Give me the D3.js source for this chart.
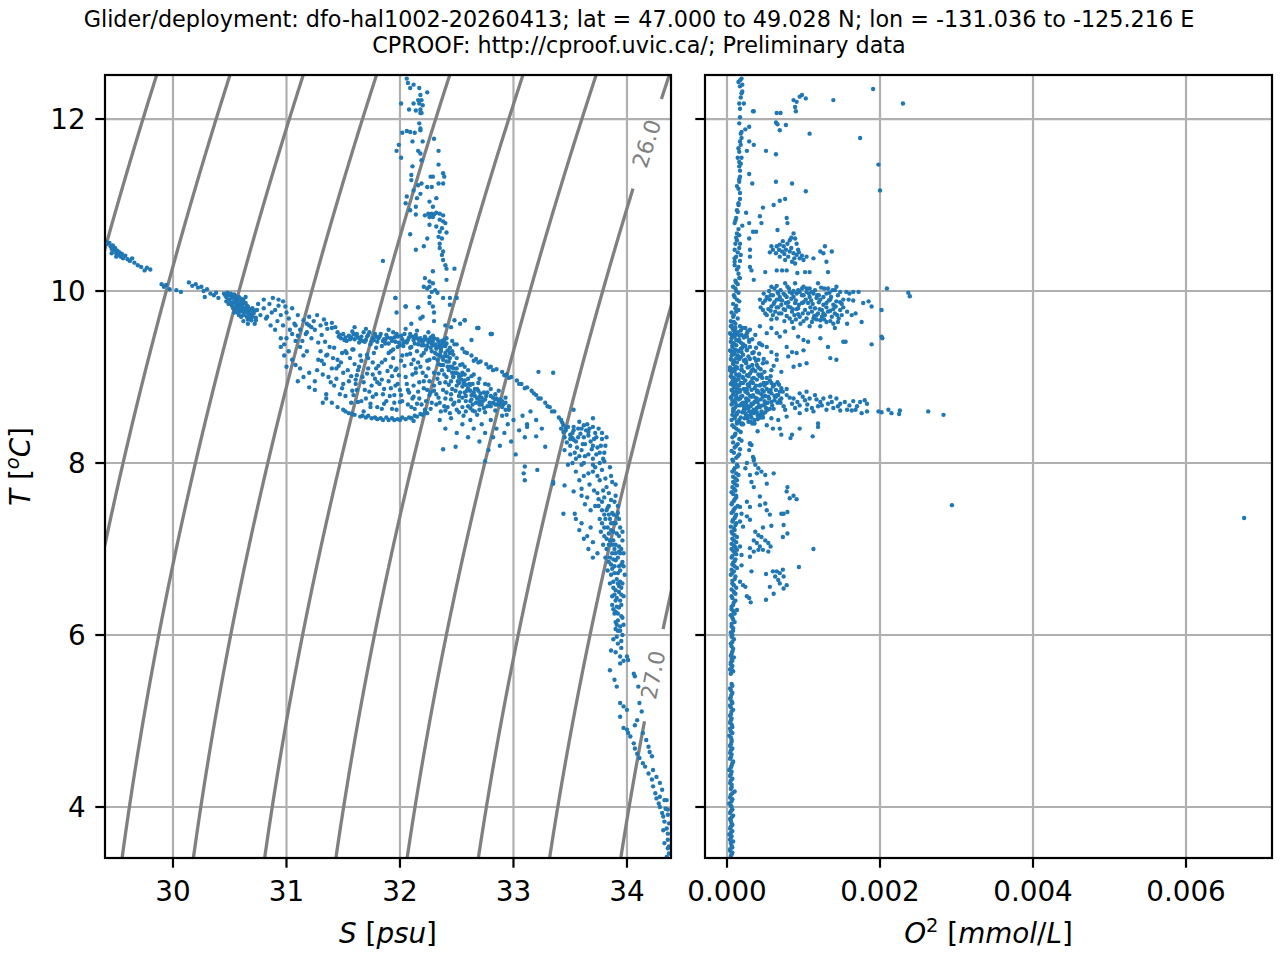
<!DOCTYPE html>
<html><head><meta charset="utf-8">
<script src="https://cdn.jsdelivr.net/npm/d3@7"></script>
<style>
body{margin:0;background:#fff}
svg{display:block}
text{font-family:"DejaVu Sans",sans-serif}
</style>
</head><body>
<svg id="chart" width="1280" height="960"></svg>
<script>
// ---------------- DATA ----------------
const titleLines = [
  "Glider/deployment: dfo-hal1002-20260413; lat = 47.000 to 49.028 N; lon = -131.036 to -125.216 E",
  "CPROOF: http://cproof.uvic.ca/; Preliminary data"
];
const salinityTicks = [30, 31, 32, 33, 34];
const temperatureTicks = [4, 6, 8, 10, 12];
const oxygenTicks = [0, 0.002, 0.004, 0.006];
const oxygenTickLabels = ["0.000", "0.002", "0.004", "0.006"];
const sigmaLevels = [22.5, 23.0, 23.5, 24.0, 24.5, 25.0, 25.5, 26.0, 26.5, 27.0, 27.5];
const sigmaLabels = [26.0, 27.0];
const sigmaLabelTemps = [11.715, 5.535];

// salinity / temperature samples [S, T]
const tsPoints = [
 [29.41,10.57],[29.42,10.55],[29.44,10.56],[29.45,10.52],[29.46,10.49],[29.47,10.53],[29.48,10.47],[29.49,10.50],[29.50,10.44],[29.51,10.47],[29.52,10.42],[29.53,10.45],[29.54,10.40],[29.55,10.43],[29.56,10.38],[29.58,10.41],[29.60,10.37],[29.62,10.35],[29.64,10.38],[29.66,10.33],[29.69,10.30],[29.72,10.28],[29.75,10.24],[29.77,10.27],[29.80,10.25],[29.46,10.44],[29.50,10.40],
 [29.90,10.08],[29.92,10.05],[29.94,10.07],[29.97,10.02],[30.03,10.01],[30.07,9.99],[30.14,10.10],[30.17,10.06],[30.20,10.08],[30.22,10.04],[30.25,10.05],[30.27,10.00],[30.30,10.02],[30.33,9.97],[30.36,9.95],[30.38,9.98],[30.28,9.93],[30.40,9.92],
 [30.45,9.97],[30.47,9.93],[30.48,9.98],[30.50,9.95],[30.50,9.90],[30.52,9.93],[30.53,9.87],[30.54,9.96],[30.55,9.91],[30.56,9.85],[30.57,9.89],[30.58,9.93],[30.58,9.82],[30.60,9.87],[30.60,9.78],[30.61,9.84],[30.62,9.90],[30.63,9.80],[30.64,9.75],[30.64,9.86],[30.65,9.70],[30.66,9.82],[30.67,9.77],[30.68,9.72],[30.69,9.66],[30.70,9.80],[30.71,9.74],[30.72,9.62],[30.73,9.69],[30.74,9.78],[30.52,9.83],[30.55,9.78],[30.57,9.75],[30.60,9.70],[30.62,9.65],[30.66,9.62],[30.75,9.85],[30.77,9.72],[30.80,9.80],[30.82,9.68],
 [30.80,9.90],[30.85,9.85],[30.88,9.92],[30.90,9.78],[30.93,9.83],[30.95,9.72],[30.97,9.88],[31.00,9.75],[31.02,9.68],[31.05,9.80],[31.07,9.62],[31.10,9.72],[31.12,9.55],[31.15,9.66],[31.17,9.50],[31.20,9.60],[31.22,9.45],[31.25,9.55],[31.28,9.40],[30.86,9.60],[30.90,9.55],[30.95,9.45],[30.98,9.38],[31.02,9.30],[31.05,9.20],[31.08,9.14],[31.00,9.12],[31.12,9.35],[31.15,9.25],[30.83,9.70],
 [30.95,9.35],[31.00,9.45],[31.05,9.50],[30.98,9.25],[31.08,9.42],[31.12,9.10],[31.15,9.00],[31.18,9.30],[31.10,8.95],[31.20,8.88],[31.35,8.75],[31.40,8.70],[31.45,8.65],
 [31.20,9.70],[31.24,9.65],[31.27,9.72],[31.30,9.60],[31.33,9.67],[31.36,9.56],[31.40,9.63],[31.43,9.58],[31.22,9.58],[31.18,9.62],
 [31.45,9.52],[31.48,9.45],[31.50,9.50],[31.53,9.42],[31.55,9.48],[31.58,9.53],[31.60,9.44],[31.62,9.50],[31.64,9.40],[31.66,9.47],[31.68,9.52],[31.70,9.43],[31.72,9.49],[31.74,9.38],[31.76,9.45],[31.78,9.50],[31.80,9.41],[31.82,9.47],[31.84,9.36],[31.86,9.44],[31.88,9.49],[31.90,9.39],[31.92,9.45],[31.94,9.52],[31.96,9.41],[31.98,9.47],[32.00,9.37],[32.02,9.44],[32.04,9.50],[32.06,9.40],[32.08,9.46],[32.10,9.35],[32.12,9.43],[32.14,9.49],[32.16,9.38],[32.18,9.45],[32.20,9.41],[32.22,9.47],[32.24,9.36],[32.26,9.43],[32.28,9.39],[32.30,9.45],[32.32,9.35],[32.34,9.41],[32.36,9.33],[32.38,9.40],[32.40,9.36],[32.42,9.31],[31.90,9.55],[32.05,9.56],[32.15,9.54],[32.25,9.52],[31.70,9.56],[31.60,9.58],[31.40,9.57],[31.35,9.62],
 [31.85,9.42],[31.95,9.46],[32.03,9.40],[32.11,9.47],[32.19,9.37],[32.27,9.46],[32.35,9.38],[31.75,9.41],[31.65,9.44],[31.57,9.46],
 [31.30,9.30],[31.33,9.15],[31.35,9.25],[31.37,9.00],[31.40,9.10],[31.42,8.90],[31.45,9.20],[31.47,8.80],[31.50,9.05],[31.52,9.30],[31.55,8.95],[31.57,8.70],[31.60,9.15],[31.62,8.85],[31.65,9.25],[31.67,9.00],[31.70,8.75],[31.72,9.10],[31.75,8.90],[31.77,9.28],[31.80,8.65],[31.82,9.05],[31.85,8.80],[31.87,9.20],[31.90,8.95],[31.92,9.30],[31.95,8.70],[31.97,9.10],[32.00,8.85],[32.02,9.25],[32.05,9.00],[32.07,8.68],[32.10,9.15],[32.12,8.90],[32.15,9.30],[32.17,8.75],[32.20,9.05],[32.22,8.62],[32.24,8.85],[32.26,9.20],[31.38,9.35],[31.44,8.98],[31.58,9.32],[31.68,8.60],[31.78,8.98],[31.88,8.72],[31.98,9.35],[32.08,8.82],[32.18,9.12],[31.52,8.78],[31.62,9.02],[31.72,9.22],[31.82,8.92],[31.92,9.12],[32.02,8.72],[32.12,9.20],[31.35,8.80],[31.25,8.95],[31.28,9.20],[31.20,9.05],[31.25,8.85],[31.32,8.70],
 [31.50,8.62],[31.55,8.58],[31.60,8.56],[31.65,8.54],[31.70,8.53],[31.75,8.52],[31.80,8.51],[31.85,8.50],[31.90,8.50],[31.95,8.50],[32.00,8.50],[32.05,8.51],[32.10,8.52],[32.15,8.54],[32.20,8.56],[32.24,8.58],[31.72,8.55],[31.88,8.53],[32.02,8.53],[32.12,8.49],
 [32.28,9.30],[32.30,9.22],[32.32,9.33],[32.34,9.15],[32.35,9.26],[32.37,9.08],[32.38,9.20],[32.40,9.28],[32.41,9.00],[32.42,9.12],[32.44,9.22],[32.45,8.95],[32.46,9.05],[32.48,9.16],[32.50,8.90],[32.50,9.10],[32.52,9.00],[32.53,8.82],[32.55,9.05],[32.56,8.93],[32.58,8.78],[32.60,8.98],[32.60,8.87],[32.62,8.72],[32.64,8.92],[32.65,8.82],[32.67,8.70],[32.68,8.86],[32.70,8.77],[32.72,8.68],[32.74,8.82],[32.75,8.74],[32.77,8.66],[32.80,8.78],[32.82,8.70],[32.85,8.75],[32.88,8.68],[32.90,8.72],[32.30,8.90],[32.32,8.80],[32.35,8.70],[32.38,8.85],[32.40,8.75],[32.42,8.65],[32.45,8.80],[32.48,8.70],[32.50,8.62],[32.52,8.72],[32.55,8.65],[32.28,8.70],[32.26,8.95],[32.30,9.05],[32.33,8.98],[32.36,8.60],[32.44,8.58],[32.58,8.60],[32.62,8.64],[32.66,8.60],[32.70,8.62],
 [32.36,9.30],[32.39,9.24],[32.43,9.18],[32.47,9.10],[32.51,9.04],[32.54,8.97],[32.58,8.91],[32.62,8.84],[32.66,8.78],[32.70,8.72],
 [32.41,9.45],[32.46,9.42],[32.50,9.38],[32.55,9.33],[32.59,9.28],[32.63,9.25],[32.67,9.21],[32.71,9.18],[32.76,9.15],[32.80,9.12],[32.85,9.09],[32.90,9.06],[32.94,9.03],[32.98,9.00],[33.03,8.96],[33.07,8.92],[33.12,8.88],[33.16,8.84],[33.20,8.79],[33.24,8.75],[33.28,8.70],[33.32,8.65],[33.36,8.60],[33.40,8.53],[33.43,8.47],[33.46,8.40],[33.50,8.33],[33.53,8.27],
 [32.65,9.19],[32.78,9.11],[32.92,9.02],[33.05,8.92],[33.18,8.81],[33.30,8.66],[33.42,8.50],
 [32.44,9.28],[32.50,9.22],[32.55,9.15],[32.60,9.08],[32.65,9.03],[32.70,8.98],[32.75,8.92],[32.80,8.86],[32.84,8.80],[32.88,8.74],[32.91,8.68],[32.93,8.62],[32.94,8.56],
 [32.35,8.50],[32.40,8.40],[32.45,8.52],[32.50,8.35],[32.55,8.45],[32.60,8.30],[32.62,8.50],[32.65,8.40],[32.70,8.25],[32.72,8.45],[32.75,8.35],[32.78,8.15],[32.80,8.50],[32.82,8.30],[32.85,8.40],[32.88,8.20],[32.90,8.55],[32.92,8.35],[32.95,8.45],[32.98,8.25],[33.00,8.50],[33.02,8.10],[33.05,8.38],[33.08,8.55],[33.10,8.30],[33.12,8.45],[32.38,8.16],[32.49,8.19],[32.75,8.02],[33.09,7.88],[33.10,7.80],[33.21,7.92],[33.35,7.78],[33.45,7.74],[33.53,7.67],[32.56,8.55],[32.68,8.56],[33.15,8.60],[33.20,8.50],[33.25,8.40],
 [32.68,9.57],[32.81,9.50],[32.63,9.43],[32.53,9.62],[33.22,9.06],[33.35,9.05],[33.53,8.62],[33.70,8.52],[32.57,9.66],[32.69,9.57],[32.80,9.50],
 [31.96,9.92],[32.05,9.82],[32.16,9.81],[32.20,9.70],[32.30,9.65],[32.40,9.60],[32.45,9.58],[31.97,9.75],[32.10,9.62],
 [33.12,8.42],[33.20,8.31],[33.28,8.19],[33.10,7.96],[33.35,7.76],[33.44,7.41],[33.54,7.41],
 [33.42,8.40],[33.45,8.30],[33.48,8.42],[33.50,8.20],[33.52,8.35],[33.55,8.25],[33.57,8.40],[33.60,8.15],[33.62,8.30],[33.64,8.38],[33.66,8.10],[33.68,8.25],[33.70,8.05],[33.72,8.35],[33.74,8.18],[33.76,8.00],[33.78,8.28],[33.55,8.05],[33.60,7.98],[33.50,8.10],[33.45,8.15],[33.65,8.45],[33.58,8.48],[33.70,8.42],[33.80,8.12],[33.82,8.30],[33.48,7.98],[33.52,8.00],
 [33.55,7.90],[33.58,7.80],[33.60,7.70],[33.62,7.85],[33.65,7.60],[33.67,7.75],[33.70,7.90],[33.72,7.50],[33.74,7.65],[33.76,7.80],[33.78,7.45],[33.80,7.60],[33.82,7.72],[33.84,7.50],[33.86,7.85],[33.88,7.40],[33.90,7.62],[33.63,7.52],[33.68,7.45],[33.72,7.95],[33.85,7.95],[33.90,7.75],[33.60,7.62],[33.92,7.50],
 [33.55,7.35],[33.58,7.22],[33.62,7.12],[33.66,7.00],[33.70,6.90],[33.60,7.30],[33.65,7.15],[33.70,7.08],[33.74,6.95],[33.68,7.25],
 [33.75,7.50],[33.80,7.40],[33.85,7.35],[33.90,7.30],[33.78,7.30],[33.83,7.25],[33.88,7.20],[33.93,7.15],[33.80,7.15],[33.85,7.10],[33.90,7.05],[33.95,7.00],[33.82,7.00],[33.87,6.95],[33.92,6.90],[33.96,6.85],[33.84,6.85],[33.89,6.80],[33.94,6.75],[33.86,6.70],[33.91,6.65],[33.96,6.60],[33.88,6.55],[33.93,6.50],[33.97,6.45],[33.90,6.40],[33.95,6.35],[33.88,6.30],[33.92,6.25],[33.96,6.20],[33.90,6.15],[33.94,6.10],[33.92,6.05],[33.96,6.00],[33.77,7.20],[33.79,7.05],[33.81,6.90],[33.83,6.75],[33.85,6.60],[33.87,6.45],[33.89,6.25],[33.91,6.12],[33.93,7.35],[33.96,7.20],[33.97,6.95],[33.98,6.70],[33.94,6.95],[33.92,6.60],[33.86,7.30],[33.88,7.10],[33.82,7.45],[33.76,7.35],[33.90,6.95],[33.93,6.80],[33.87,6.35],[33.95,6.55],
 [33.88,5.95],[33.92,5.90],[33.95,5.85],[33.90,5.80],[33.94,5.75],[33.97,5.70],[33.86,5.82],
 [33.85,5.59],[33.89,5.48],[33.94,5.67],[34.00,5.75],[34.01,5.71],[34.06,5.55],[34.07,5.52],[33.91,5.40],[33.94,5.21],[33.97,5.17],[34.00,5.13],[33.94,5.05],[34.10,5.40],[34.11,5.21],[34.13,5.11],[34.09,5.01],[34.07,4.95],
 [33.97,4.92],[34.00,4.90],[34.01,4.86],[34.03,4.82],[34.06,4.74],[34.07,4.68],[34.09,4.62],[34.14,4.86],[34.17,4.78],[34.19,4.70],[34.20,4.64],[34.22,4.59],[34.11,4.57],[34.14,4.51],
 [34.16,4.47],[34.19,4.39],[34.22,4.32],[34.23,4.24],[34.25,4.16],[34.26,4.10],[34.28,4.04],[34.29,4.00],[34.31,3.93],[34.32,3.89],[34.33,3.83],[34.35,3.75],[34.36,3.69],[34.36,3.62],[34.37,3.54],[34.37,3.46],[34.35,3.42],[34.23,4.43],[34.26,4.35],[34.29,4.28],[34.31,4.20],[34.33,4.08],[34.34,3.98],[34.36,3.91],[34.37,3.81],[34.32,3.73],[34.36,3.97],[34.29,4.12],[34.35,4.08],[34.36,3.52],[34.33,3.58],
 [32.06,12.47],[32.07,12.42],[32.09,12.36],[32.12,12.40],[32.17,12.36],[32.24,12.31],[32.18,12.28],[32.16,12.22],[32.19,12.22],[32.17,12.18],[32.20,12.16],[32.01,12.18],[32.12,12.18],[32.08,12.11],[32.18,12.11],[32.14,12.10],[32.18,12.07],[32.19,12.07],
 [32.17,11.95],[32.18,11.89],[32.18,11.87],[32.02,11.84],[32.06,11.86],[32.09,11.85],[32.13,11.84],[32.11,11.74],[32.20,11.74],[32.30,11.77],[31.99,11.70],[31.97,11.63],[32.01,11.55],[32.16,11.63],[32.18,11.60],[32.34,11.63],[32.19,11.52],[32.11,11.45],[32.34,11.47],[32.10,11.35],[32.27,11.33],[32.29,11.33],[32.38,11.37],[32.39,11.33],[32.10,11.29],[32.16,11.23],[32.19,11.25],[32.24,11.21],[32.28,11.21],[32.34,11.25],[32.38,11.25],[32.12,11.17],[32.18,11.13],[32.06,11.10],[32.32,11.08],[32.05,11.02],[32.15,11.08],[32.14,10.98],[32.09,10.94],[32.26,11.04],[32.29,10.98],
 [32.22,10.88],[32.25,10.90],[32.28,10.90],[32.30,10.89],[32.32,10.91],[32.35,10.90],[32.38,10.88],[32.26,10.86],[32.29,10.86],[32.14,10.89],[32.26,10.77],[32.35,10.83],[32.38,10.81],[32.40,10.79],[32.37,10.73],[32.32,10.75],[32.41,10.68],[32.35,10.69],[32.34,10.63],[32.37,10.61],[32.35,10.55],[32.09,10.66],[32.14,10.48],[32.21,10.52],[32.24,10.61],[32.35,10.50],[32.38,10.46],[32.37,10.42],[32.38,10.36],[32.40,10.30],[32.41,10.26],[32.48,10.26],[32.29,10.23],
 [32.22,10.15],[32.26,10.11],[32.29,10.09],[32.21,10.05],[32.24,10.03],[32.26,10.05],[32.28,9.99],[32.31,10.01],[32.33,9.98],[32.41,10.13],[32.38,9.92],[32.44,9.92],[32.50,9.92],[32.26,9.93],[32.26,9.86],[32.29,9.82],[31.85,10.35],[31.96,9.92],[32.05,9.82],[32.16,9.81],[32.44,9.84],
 [32.18,9.68],[32.30,9.75],[32.48,9.66],[32.57,9.66],[32.69,9.57],[32.80,9.50]
];

// additional samples filling the dense parts of the T-S cloud [S, T]
const tsPointsDense = [
 [30.46,9.95],[30.49,9.90],[30.51,9.86],[30.53,9.92],[30.56,9.88],[30.59,9.85],[30.61,9.80],[30.63,9.86],[30.65,9.78],[30.67,9.73],[30.70,9.70],[30.56,9.82],[30.59,9.76],[30.62,9.72],[30.66,9.67],[30.68,9.79],[30.72,9.77],[30.54,9.75],[30.49,9.85],[30.64,9.93],
 [30.87,9.75],[30.92,9.65],[30.97,9.60],[31.03,9.55],[31.08,9.60],[31.10,9.48],[31.14,9.42],[31.18,9.52],[30.93,9.90],[30.99,9.82],
 [31.31,9.49],[31.46,9.47],[31.61,9.49],[31.79,9.47],[31.97,9.49],[32.13,9.47],[32.29,9.48],
 [31.34,9.41],[31.51,9.43],[31.69,9.41],[31.87,9.43],[32.05,9.41],[32.21,9.43],[32.37,9.42],
 [31.42,9.34],[31.59,9.32],[31.79,9.34],[31.94,9.32],[32.09,9.34],[32.23,9.32],
 [31.36,9.26],[31.53,9.28],[31.71,9.26],[31.90,9.28],[32.06,9.26],[32.21,9.28],
 [31.31,9.19],[31.48,9.17],[31.66,9.19],[31.84,9.17],[32.01,9.19],[32.16,9.17],[32.24,9.19],
 [31.27,9.08],[31.44,9.10],[31.63,9.08],[31.79,9.10],[31.96,9.08],[32.14,9.10],
 [31.32,9.03],[31.57,9.01],[31.76,9.03],[31.93,9.01],[32.11,9.03],[32.23,9.01],
 [31.39,8.94],[31.61,8.92],[31.80,8.94],[31.98,8.92],[32.17,8.94],
 [31.49,8.87],[31.69,8.85],[31.92,8.87],[32.07,8.85],[32.21,8.87],
 [31.59,8.79],[31.76,8.77],[31.95,8.79],[32.12,8.77],[32.26,8.79],
 [31.63,8.71],[31.86,8.69],[32.00,8.71],[32.15,8.69],
 [31.74,8.65],[31.93,8.63],[32.10,8.65],[32.27,8.63],
 [31.52,8.60],[31.58,8.57],[31.67,8.55],[31.78,8.53],[31.83,8.52],[31.93,8.52],[31.98,8.51],[32.08,8.53],[32.13,8.55],[32.18,8.57],[32.22,8.59],
 [32.29,9.37],[32.34,9.35],[32.39,9.37],[32.33,9.26],[32.42,9.24],[32.47,9.26],
 [32.36,9.14],[32.44,9.12],[32.53,9.14],[32.57,9.12],[32.39,9.03],[32.47,9.01],[32.57,9.03],[32.63,9.01],
 [32.35,8.93],[32.43,8.91],[32.52,8.93],[32.62,8.91],[32.69,8.93],[32.78,8.91],
 [32.30,8.84],[32.41,8.82],[32.49,8.84],[32.57,8.82],[32.69,8.84],[32.77,8.82],[32.87,8.84],
 [32.34,8.76],[32.45,8.74],[32.55,8.76],[32.63,8.74],[32.72,8.76],[32.84,8.74],[32.93,8.76],
 [32.32,8.68],[32.39,8.66],[32.47,8.68],[32.60,8.66],[32.70,8.68],[32.80,8.66],[32.86,8.68],[32.96,8.66],
 [32.40,8.61],[32.52,8.59],[32.64,8.61],[32.75,8.59],[32.84,8.61],
 [32.48,9.38],[32.57,9.29],[32.69,9.17],[32.82,9.08],[32.96,8.99],[33.10,8.87],[33.22,8.75],[33.34,8.60],[33.44,8.44],[33.52,8.29],
 [33.44,8.36],[33.47,8.24],[33.51,8.30],[33.53,8.42],[33.56,8.18],[33.59,8.34],[33.61,8.22],[33.63,8.08],[33.66,8.32],[33.69,8.16],[33.71,8.28],[33.73,8.10],[33.75,8.40],[33.77,8.20],[33.79,8.05],[33.54,8.12],[33.67,8.40],[33.62,8.44],[33.81,8.20],[33.58,8.08],
 [33.78,7.55],[33.83,7.48],[33.87,7.42],[33.91,7.38],[33.81,7.35],[33.86,7.22],[33.91,7.18],[33.84,7.05],[33.89,7.00],[33.93,7.03],[33.85,6.90],[33.90,6.87],[33.95,6.82],[33.87,6.77],[33.92,6.72],[33.88,6.62],[33.94,6.62],[33.90,6.52],[33.95,6.47],[33.91,6.43],[33.93,6.32],[33.90,6.27],[33.95,6.22],[33.92,6.17],[33.94,6.05],[33.97,6.12],[33.91,5.98],[33.80,7.25],[33.82,7.12],[33.96,7.10],[33.97,6.80],[33.88,6.88]
];

// further samples from the densest T-S patches [S, T]
const tsPointsCore = [
 [31.47,9.49],[31.52,9.46],[31.56,9.44],[31.59,9.50],[31.63,9.46],[31.67,9.42],[31.71,9.47],[31.73,9.52],[31.77,9.43],[31.81,9.45],[31.83,9.50],[31.87,9.39],[31.89,9.46],[31.93,9.42],[31.97,9.50],[31.99,9.40],[32.01,9.48],[32.03,9.36],[32.07,9.43],[32.09,9.50],[32.13,9.39],[32.15,9.45],[32.17,9.42],[32.21,9.37],[32.23,9.44],[32.25,9.40],[32.29,9.42],[32.31,9.38],[32.33,9.44],[32.37,9.36],[32.39,9.43],[32.41,9.39],[32.44,9.34],[32.46,9.30],
 [32.27,9.34],[32.31,9.28],[32.33,9.20],[32.36,9.24],[32.38,9.14],[32.41,9.18],[32.43,9.08],[32.46,9.12],[32.47,9.00],[32.49,9.05],[32.51,8.95],[32.54,9.02],[32.55,8.89],[32.57,8.96],[32.59,8.84],[32.61,8.92],[32.63,8.79],[32.66,8.86],[32.68,8.75],[32.71,8.81],[32.73,8.72],[32.76,8.78],[32.79,8.70],[32.82,8.76],[32.84,8.68],[32.87,8.72],[32.90,8.65],[32.93,8.70],[32.96,8.62],[32.34,9.04],[32.40,8.94],[32.46,8.86],[32.52,8.78],[32.58,8.72],[32.64,8.68],[32.74,8.64],
 [31.41,9.22],[31.46,9.13],[31.49,9.28],[31.54,9.08],[31.56,9.22],[31.61,8.97],[31.64,9.12],[31.68,8.94],[31.71,9.04],[31.73,8.83],[31.76,9.17],[31.79,8.80],[31.81,9.13],[31.84,8.97],[31.86,8.86],[31.89,9.07],[31.91,8.78],[31.94,9.22],[31.96,8.90],[31.99,9.02],[32.01,8.79],[32.04,9.13],[32.06,8.92],[32.09,9.27],[32.11,8.75],[32.14,9.05],[32.16,8.83],[32.19,9.25],[32.21,8.95],[32.23,8.72],[32.25,9.10],[32.27,8.82],[31.50,8.92],[31.58,8.84],[31.66,8.72],[31.74,8.69],[31.84,8.63],[31.97,8.62],[32.13,8.63],[32.19,8.68],
 [33.46,8.38],[33.50,8.28],[33.53,8.38],[33.57,8.30],[33.60,8.40],[33.63,8.22],[33.66,8.36],[33.70,8.20],[33.73,8.30],[33.76,8.12],[33.78,8.35],[33.80,8.02],[33.62,8.00],[33.66,7.88],[33.70,7.98],[33.74,7.85],[33.78,7.92],[33.81,7.82],[33.84,7.65],[33.87,7.78],[33.89,7.55],[33.79,7.68],[33.75,7.58],[33.71,7.68],[33.86,7.57],[33.92,7.42],[33.84,7.40],[33.88,7.30],[33.94,7.25],[33.84,7.18],[33.87,7.05],[33.93,6.97],[33.86,6.82],[33.89,6.72],[33.93,6.57],[33.89,6.47],[33.94,6.40],[33.91,6.33],[33.90,6.07],[33.95,5.93],
 [30.47,9.88],[30.51,9.97],[30.55,9.94],[30.57,9.80],[30.60,9.91],[30.62,9.76],[30.65,9.83],[30.68,9.68],[30.70,9.76],[30.58,9.72],[30.53,9.80],[30.73,9.66]
];

// oxygen / temperature samples [O2 (mmol/L), T]
const o2Points = [
 [0.00005,3.43],[0.00007,3.47],[0.00004,3.51],[0.00006,3.55],[0.00008,3.60],[0.00005,3.64],[0.00003,3.68],[0.00007,3.72],[0.00005,3.77],[0.00006,3.81],[0.00004,3.86],[0.00008,3.90],[0.00005,3.95],[0.00006,4.00],[0.00003,4.04],[0.00007,4.09],[0.00005,4.14],[0.00010,4.18],[0.00006,4.23],[0.00004,4.28],[0.00007,4.33],[0.00005,4.38],[0.00003,4.43],[0.00006,4.48],[0.00008,4.53],[0.00005,4.58],[0.00004,4.63],[0.00007,4.68],[0.00005,4.73],[0.00006,4.78],[0.00003,4.83],[0.00005,4.88],[0.00007,4.93],[0.00004,4.98],[0.00006,5.03],[0.00005,5.08],[0.00008,5.13],[0.00004,5.18],[0.00006,5.23],[0.00005,5.28],[0.00007,5.33],[0.00004,5.38],[0.00006,5.43],[0.00005,5.55],[0.00008,5.58],[0.00006,5.62],[0.00005,5.66],[0.00007,5.70],[0.00009,5.74],[0.00006,5.78],[0.00008,5.84],[0.00005,5.90],[0.00009,5.95],[0.00007,6.00],[0.00008,6.05],[0.00006,6.10],[0.00010,6.15],[0.00007,6.20],[0.00009,6.25],[0.00006,6.30],
 [0.00008,6.35],[0.00011,6.40],[0.00006,6.45],[0.00009,6.50],[0.00012,6.55],[0.00007,6.60],[0.00010,6.65],[0.00005,6.70],[0.00009,6.74],[0.00013,6.78],[0.00007,6.82],[0.00010,6.86],[0.00006,6.90],[0.00012,6.94],[0.00008,6.98],[0.00011,7.02],[0.00006,7.06],[0.00009,7.10],[0.00013,7.14],[0.00007,7.18],[0.00010,7.22],[0.00005,7.26],[0.00012,7.30],[0.00008,7.34],[0.00011,7.38],[0.00006,7.42],[0.00009,7.46],[0.00014,7.50],[0.00007,7.54],[0.00010,7.58],[0.00012,7.62],[0.00006,7.66],[0.00009,7.70],[0.00013,7.74],[0.00008,7.78],[0.00011,7.82],[0.00015,7.86],[0.00007,7.90],[0.00010,7.94],[0.00013,7.98],
 [0.00008,8.02],[0.00012,8.06],[0.00016,8.10],[0.00006,8.14],[0.00010,8.18],[0.00014,8.22],[0.00019,8.26],[0.00007,8.30],[0.00011,8.34],[0.00015,8.38],[0.00009,8.42],[0.00013,8.46],[0.00006,8.50],[0.00010,8.54],[0.00008,8.60],[0.00006,8.68],[0.00005,8.76],[0.00007,8.84],[0.00005,8.92],[0.00006,9.00],[0.00004,9.08],[0.00006,9.20],[0.00005,9.30],[0.00007,9.40],[0.00005,9.50],[0.00006,9.60],[0.00005,9.65],[0.00008,9.70],[0.00006,9.75],[0.00011,9.80],[0.00008,9.85],[0.00013,9.90],[0.00009,9.95],[0.00012,10.00],[0.00008,10.05],
 [0.00012,10.10],[0.00015,10.20],[0.00010,10.30],[0.00014,10.45],[0.00011,10.55],[0.00016,10.65],[0.00012,10.85],[0.00015,11.00],[0.00017,11.40],[0.00014,11.55],[0.00018,11.70],[0.00016,11.95],[0.00019,12.30],[0.00017,12.45],
 [0.00019,12.47],[0.00015,12.43],[0.00017,12.38],[0.00020,12.32],[0.00016,12.18],[0.00022,12.18],[0.00017,12.12],[0.00034,12.09],[0.00019,11.85],[0.00018,11.83],[0.00024,11.88],[0.00029,11.91],[0.00017,11.74],[0.00029,11.74],[0.00035,11.70],[0.00026,11.63],[0.00016,11.62],[0.00051,11.63],[0.00064,11.59],[0.00019,11.55],[0.00016,11.50],[0.00016,11.45],[0.00029,11.36],[0.00017,11.33],[0.00064,11.27],[0.00085,11.25],[0.00033,11.25],[0.00103,11.16],[0.00016,11.27],[0.00015,11.19],[0.00017,11.14],[0.00069,11.05],[0.00076,11.07],[0.00061,11.00],[0.00047,10.97],[0.00015,11.02],[0.00013,10.94],[0.00025,10.91],[0.00043,10.87],[0.00078,10.85],[0.00079,10.79],[0.00029,10.79],[0.00020,10.76],[0.00010,10.79],[0.00045,10.79],[0.00013,10.67],[0.00034,10.69],[0.00038,10.69],[0.00066,10.71],[0.00017,10.55],[0.00029,10.61],[0.00013,10.59],[0.00010,10.48],[0.00018,10.42],[0.00030,10.48],[0.00030,10.40],[0.00030,10.28],[0.00032,10.24],[0.00010,10.34],[0.00050,10.22],[0.00035,10.13],[0.00017,10.15],
 [0.00091,12.20],[0.00087,12.22],[0.00095,12.26],[0.00103,12.24],[0.00089,12.14],[0.00090,12.09],[0.00098,12.28],[0.00139,12.22],[0.00191,12.35],[0.00230,12.18],[0.00065,12.07],[0.00070,12.07],[0.00064,11.96],[0.00066,11.94],[0.00069,11.87],[0.00077,11.93],[0.00108,11.83],[0.00174,11.78],[0.00198,11.47],[0.00200,11.17],[0.00035,12.09],
 [0.00065,10.52],[0.00069,10.54],[0.00074,10.52],[0.00079,10.55],[0.00082,10.59],[0.00087,10.67],[0.00089,10.61],[0.00077,10.48],[0.00082,10.46],[0.00087,10.44],[0.00091,10.42],[0.00095,10.38],[0.00100,10.36],[0.00104,10.40],[0.00080,10.40],[0.00085,10.34],[0.00089,10.32],[0.00065,10.24],[0.00072,10.24],[0.00078,10.24],[0.00056,10.45],[0.00060,10.48],[0.00072,10.46],[0.00093,10.48],[0.00069,10.40],[0.00113,10.38],[0.00108,10.22],[0.00102,10.22],[0.00092,10.21],[0.00128,10.52],[0.00126,10.44],[0.00137,10.46],[0.00130,10.34],[0.00132,10.22],[0.00122,10.46],[0.00091,10.55],[0.00058,10.52],
 [0.00058,10.05],[0.00065,10.06],[0.00076,10.09],[0.00089,10.09],[0.00100,10.05],[0.00108,10.03],[0.00119,10.09],[0.00132,10.03],[0.00143,10.05],[0.00148,9.99],[0.00156,9.99],[0.00165,9.99],[0.00172,9.99],[0.00152,9.90],[0.00159,9.90],[0.00165,9.89],[0.00178,9.86],[0.00185,9.88],[0.00189,9.82],[0.00202,9.78],[0.00209,10.03],[0.00237,9.98],[0.00239,9.94],
 [0.00043,9.90],[0.00047,9.86],[0.00052,9.93],[0.00056,9.90],[0.00060,9.95],[0.00065,9.90],[0.00069,9.93],[0.00074,9.97],[0.00078,9.93],[0.00082,9.99],[0.00087,9.93],[0.00091,9.97],[0.00095,9.99],[0.00100,9.95],[0.00104,9.99],[0.00108,9.93],[0.00113,9.97],[0.00117,9.92],[0.00122,9.90],[0.00126,9.93],[0.00130,9.86],[0.00135,9.90],[0.00139,9.84],[0.00143,9.88],
 [0.00047,9.78],[0.00052,9.72],[0.00058,9.82],[0.00063,9.76],[0.00067,9.81],[0.00071,9.84],[0.00076,9.78],[0.00080,9.82],[0.00085,9.76],[0.00089,9.86],[0.00093,9.80],[0.00098,9.86],[0.00102,9.78],[0.00106,9.86],[0.00111,9.76],[0.00115,9.80],[0.00119,9.74],[0.00124,9.78],[0.00128,9.72],[0.00132,9.76],[0.00137,9.70],[0.00141,9.74],[0.00095,9.70],[0.00104,9.68],[0.00113,9.68],[0.00122,9.66],[0.00130,9.64],[0.00082,9.68],[0.00065,9.68],[0.00146,9.68],[0.00150,9.72],[0.00157,9.76],[0.00163,9.72],[0.00168,9.74],[0.00176,9.64],[0.00157,9.62],[0.00139,9.62],[0.00122,9.59],[0.00108,9.59],
 [0.00030,9.55],[0.00037,9.49],[0.00043,9.59],[0.00052,9.51],[0.00058,9.57],[0.00065,9.51],[0.00069,9.47],[0.00076,9.53],[0.00087,9.57],[0.00093,9.47],[0.00100,9.43],[0.00106,9.41],[0.00132,9.35],[0.00122,9.45],[0.00152,9.41],[0.00155,9.41],[0.00141,9.57],[0.00052,9.35],[0.00058,9.29],[0.00065,9.26],[0.00078,9.35],[0.00085,9.29],[0.00091,9.28],[0.00100,9.31],[0.00080,9.24],[0.00087,9.12],[0.00095,9.14],[0.00104,9.16],[0.00135,9.22],[0.00143,9.20],[0.00034,9.28],[0.00041,9.20],[0.00047,9.16],[0.00058,9.08],[0.00071,9.06],[0.00065,9.20],[0.00043,9.39],[0.00026,9.47],[0.00030,9.35],[0.00189,9.38],[0.00202,9.47],[0.00203,9.45],
 [0.00008,9.55],[0.00014,9.52],[0.00020,9.57],[0.00027,9.53],
 [0.00006,9.45],[0.00010,9.47],[0.00016,9.43],[0.00022,9.46],[0.00033,9.44],
 [0.00007,9.35],[0.00012,9.37],[0.00018,9.33],[0.00024,9.36],[0.00038,9.34],[0.00046,9.37],
 [0.00006,9.25],[0.00010,9.27],[0.00015,9.23],[0.00021,9.26],[0.00028,9.24],[0.00042,9.27],
 [0.00008,9.15],[0.00013,9.17],[0.00019,9.13],[0.00025,9.16],[0.00033,9.14],[0.00052,9.17],[0.00061,9.13],
 [0.00006,9.05],[0.00010,9.07],[0.00016,9.03],[0.00022,9.06],[0.00030,9.04],[0.00037,9.07],[0.00045,9.03],
 [0.00007,8.95],[0.00012,8.97],[0.00018,8.93],[0.00024,8.96],[0.00031,8.94],[0.00039,8.97],[0.00048,8.93],[0.00056,8.96],[0.00066,8.94],
 [0.00010,8.88],[0.00016,8.90],[0.00022,8.86],[0.00029,8.89],[0.00036,8.87],[0.00043,8.90],[0.00052,8.86],[0.00060,8.89],[0.00071,8.87],
 [0.00008,8.80],[0.00014,8.82],[0.00020,8.78],[0.00027,8.81],[0.00034,8.79],[0.00041,8.82],[0.00050,8.78],[0.00058,8.81],[0.00067,8.79],
 [0.00009,8.72],[0.00015,8.74],[0.00021,8.70],[0.00028,8.73],[0.00036,8.71],[0.00044,8.74],[0.00053,8.70],[0.00062,8.73],
 [0.00011,8.65],[0.00017,8.67],[0.00024,8.63],[0.00031,8.66],[0.00039,8.64],[0.00047,8.67],[0.00056,8.63],
 [0.00013,8.57],[0.00020,8.59],[0.00027,8.55],[0.00035,8.58],[0.00043,8.56],[0.00050,8.59],
 [0.00016,8.50],[0.00023,8.52],[0.00031,8.48],[0.00040,8.51],
 [0.00012,9.50],[0.00018,9.40],[0.00015,9.30],[0.00024,9.20],[0.00013,9.10],[0.00020,9.00],[0.00026,8.85],[0.00017,8.75],[0.00033,8.60],[0.00019,8.45],
 [0.00078,8.79],[0.00087,8.75],[0.00095,8.81],[0.00104,8.83],[0.00108,8.75],[0.00115,8.79],[0.00122,8.71],[0.00126,8.75],[0.00132,8.69],[0.00137,8.71],[0.00143,8.75],[0.00148,8.69],[0.00154,8.71],[0.00165,8.72],[0.00174,8.71],[0.00180,8.73],[0.00183,8.69],[0.00130,8.62],[0.00139,8.64],[0.00148,8.61],[0.00157,8.62],[0.00163,8.61],[0.00168,8.62],[0.00176,8.58],[0.00183,8.60],[0.00198,8.60],[0.00202,8.59],[0.00211,8.62],[0.00215,8.58],[0.00226,8.61],[0.00225,8.57],[0.00263,8.60],[0.00283,8.56],[0.00113,8.60],[0.00104,8.62],[0.00095,8.58],[0.00119,8.66],[0.00095,8.67],[0.00085,8.69],[0.00074,8.66],[0.00069,8.73],[0.00065,8.79],[0.00102,8.73],[0.00078,8.54],[0.00067,8.50],[0.00058,8.52],[0.00052,8.44],[0.00060,8.40],[0.00069,8.40],[0.00071,8.33],[0.00085,8.33],[0.00083,8.29],[0.00095,8.40],[0.00112,8.31],[0.00119,8.46],[0.00119,8.42],[0.00040,8.37],[0.00030,8.23],[0.00032,8.21],[0.00035,8.05],[0.00037,7.98],[0.00029,8.15],[0.00034,8.07],
 [0.00030,8.22],[0.00035,8.03],[0.00041,7.94],[0.00045,7.90],[0.00050,7.86],[0.00052,7.76],[0.00039,7.88],[0.00030,7.86],[0.00032,7.78],[0.00061,7.88],[0.00026,8.00],[0.00024,7.94],[0.00035,7.72],[0.00079,7.72],[0.00078,7.67],[0.00082,7.59],[0.00087,7.62],[0.00091,7.58],[0.00043,7.61],[0.00026,7.55],[0.00030,7.49],[0.00043,7.51],[0.00050,7.53],[0.00052,7.45],[0.00056,7.40],[0.00071,7.41],[0.00074,7.41],[0.00079,7.43],[0.00017,7.49],[0.00019,7.41],[0.00026,7.38],[0.00030,7.34],[0.00017,7.32],[0.00021,7.26],[0.00058,7.27],[0.00047,7.25],[0.00074,7.28],[0.00073,7.14],[0.00079,7.18],[0.00037,7.20],[0.00041,7.16],[0.00045,7.14],[0.00050,7.10],[0.00054,7.07],[0.00057,7.03],[0.00035,7.10],[0.00039,7.07],[0.00043,7.03],[0.00030,7.01],[0.00035,6.97],[0.00041,6.99],[0.00047,6.99],[0.00054,6.97],[0.00030,6.91],[0.00113,7.00],[0.00017,7.03],[0.00019,6.93],[0.00013,6.99],[0.00019,6.81],[0.00032,6.74],[0.00094,6.79],[0.00051,6.71],[0.00060,6.74],[0.00065,6.74],[0.00069,6.72],[0.00063,6.68],[0.00067,6.64],[0.00073,6.76],[0.00074,6.68],[0.00069,6.60],[0.00078,6.58],[0.00074,6.54],[0.00056,6.56],[0.00061,6.48],[0.00051,6.41],[0.00017,6.62],[0.00024,6.56],[0.00021,6.58],[0.00026,6.45],[0.00029,6.43],[0.00031,6.38],[0.00013,6.29],[0.00010,6.25],
 [0.00294,7.51],[0.00676,7.36]
];

// additional samples filling the dense parts of the O2 cloud [O2, T]
const o2PointsDense = [
 [0.00006,3.45],[0.00004,3.49],[0.00007,3.53],[0.00005,3.58],[0.00004,3.62],[0.00006,3.66],[0.00005,3.70],[0.00004,3.75],[0.00007,3.79],[0.00005,3.84],[0.00006,3.88],[0.00004,3.93],[0.00007,3.97],[0.00005,4.02],[0.00006,4.07],[0.00004,4.11],[0.00007,4.16],[0.00005,4.21],[0.00006,4.26],[0.00005,4.31],[0.00004,4.36],[0.00006,4.41],[0.00005,4.46],[0.00007,4.51],[0.00004,4.56],[0.00006,4.61],[0.00005,4.66],[0.00004,4.71],[0.00006,4.76],[0.00005,4.81],[0.00007,4.86],[0.00004,4.91],[0.00006,4.96],[0.00005,5.01],[0.00004,5.06],[0.00006,5.11],[0.00005,5.16],[0.00007,5.21],[0.00004,5.26],[0.00006,5.31],[0.00005,5.36],[0.00007,5.41],[0.00006,5.57],[0.00004,5.60],[0.00007,5.64],[0.00005,5.68],[0.00006,5.72],[0.00005,5.76],[0.00007,5.81],[0.00006,5.87],[0.00007,5.92],[0.00006,5.98],[0.00005,6.03],[0.00008,6.08],[0.00006,6.13],[0.00008,6.18],[0.00005,6.23],[0.00008,6.28],
 [0.00006,6.33],[0.00009,6.38],[0.00007,6.43],[0.00011,6.48],[0.00006,6.53],[0.00009,6.58],[0.00007,6.63],[0.00011,6.68],[0.00007,6.72],[0.00006,6.76],[0.00010,6.80],[0.00008,6.84],[0.00011,6.88],[0.00007,6.92],[0.00010,6.96],[0.00006,7.00],[0.00009,7.04],[0.00012,7.08],[0.00007,7.12],[0.00010,7.16],[0.00006,7.20],[0.00009,7.24],[0.00011,7.28],[0.00007,7.32],[0.00010,7.36],[0.00012,7.40],[0.00008,7.44],[0.00011,7.48],[0.00006,7.52],[0.00009,7.56],[0.00012,7.60],[0.00008,7.64],[0.00011,7.68],[0.00007,7.72],[0.00010,7.76],[0.00013,7.80],[0.00008,7.84],[0.00012,7.88],[0.00009,7.92],[0.00014,7.96],
 [0.00005,9.59],[0.00011,9.57],[0.00017,9.59],[0.00024,9.57],
 [0.00004,9.51],[0.00008,9.49],[0.00013,9.51],[0.00019,9.49],[0.00026,9.51],
 [0.00005,9.41],[0.00009,9.39],[0.00015,9.42],[0.00021,9.38],[0.00029,9.41],[0.00042,9.39],
 [0.00004,9.31],[0.00008,9.29],[0.00013,9.31],[0.00019,9.29],[0.00026,9.31],[0.00035,9.29],
 [0.00005,9.21],[0.00009,9.19],[0.00016,9.21],[0.00022,9.19],[0.00030,9.21],[0.00038,9.19],[0.00048,9.21],
 [0.00004,9.11],[0.00008,9.09],[0.00013,9.11],[0.00019,9.09],[0.00027,9.11],[0.00034,9.09],[0.00041,9.11],
 [0.00005,9.01],[0.00009,8.99],[0.00015,9.01],[0.00021,8.99],[0.00028,9.01],[0.00035,8.99],[0.00043,9.01],[0.00052,8.99],
 [0.00008,8.93],[0.00013,8.91],[0.00021,8.93],[0.00027,8.91],[0.00034,8.93],[0.00044,8.91],[0.00052,8.93],[0.00062,8.91],
 [0.00006,8.85],[0.00011,8.83],[0.00017,8.85],[0.00024,8.83],[0.00032,8.85],[0.00039,8.83],[0.00046,8.85],[0.00055,8.83],[0.00064,8.85],[0.00073,8.83],
 [0.00006,8.77],[0.00012,8.75],[0.00018,8.77],[0.00025,8.75],[0.00032,8.77],[0.00039,8.75],[0.00047,8.77],[0.00055,8.75],[0.00064,8.77],
 [0.00007,8.69],[0.00013,8.67],[0.00019,8.69],[0.00026,8.67],[0.00034,8.69],[0.00042,8.67],[0.00050,8.69],[0.00059,8.67],
 [0.00009,8.62],[0.00015,8.60],[0.00022,8.62],[0.00029,8.60],[0.00037,8.62],[0.00045,8.60],[0.00053,8.62],
 [0.00011,8.55],[0.00018,8.53],[0.00025,8.55],[0.00032,8.53],[0.00040,8.55],[0.00047,8.53],
 [0.00013,8.48],[0.00020,8.46],[0.00028,8.48],[0.00036,8.46],
 [0.00062,10.03],[0.00070,10.01],[0.00081,10.03],[0.00093,10.01],[0.00104,10.03],[0.00115,10.01],[0.00127,10.03],[0.00138,10.01],
 [0.00048,9.97],[0.00057,9.95],[0.00067,9.97],[0.00076,9.95],[0.00085,9.97],[0.00098,9.95],[0.00107,9.97],[0.00120,9.95],[0.00130,9.97],[0.00145,9.95],[0.00160,9.97],
 [0.00050,9.89],[0.00062,9.87],[0.00072,9.89],[0.00080,9.87],[0.00090,9.89],[0.00100,9.87],[0.00110,9.89],[0.00120,9.87],[0.00133,9.89],[0.00148,9.87],
 [0.00044,9.81],[0.00054,9.79],[0.00065,9.81],[0.00074,9.79],[0.00083,9.81],[0.00091,9.79],[0.00109,9.81],[0.00121,9.79],[0.00130,9.81],[0.00139,9.79],[0.00152,9.81],
 [0.00050,9.74],[0.00060,9.72],[0.00071,9.74],[0.00088,9.72],[0.00099,9.74],[0.00117,9.72],[0.00126,9.74],[0.00144,9.72],
 [0.00058,9.67],[0.00075,9.65],[0.00090,9.67],[0.00100,9.65],[0.00117,9.67],[0.00135,9.65],
 [0.00068,10.48],[0.00075,10.43],[0.00084,10.50],[0.00094,10.45],[0.00098,10.41],[0.00073,10.58],[0.00084,10.62],[0.00076,10.36],[0.00088,10.38],[0.00064,10.44],
 [0.00011,9.62],[0.00014,9.68],[0.00009,9.72],[0.00015,9.78],[0.00012,9.83],[0.00016,9.88],[0.00010,9.93],[0.00015,9.98],[0.00011,10.03],[0.00014,10.08],[0.00016,10.15],[0.00013,10.25],[0.00017,10.35],[0.00012,10.40],
 [0.00070,8.70],[0.00076,8.62],[0.00082,8.76],[0.00089,8.64],[0.00092,8.71],[0.00099,8.77],[0.00105,8.68],[0.00111,8.64],[0.00117,8.74],[0.00124,8.67],[0.00135,8.77],[0.00145,8.66],[0.00160,8.67],[0.00170,8.66]
];

// further samples from the densest O2 patches [O2, T]
const o2PointsCore = [
 [0.00007,8.04],[0.00014,8.08],[0.00009,8.12],[0.00017,8.16],[0.00012,8.20],[0.00008,8.24],[0.00016,8.28],[0.00010,8.32],[0.00018,8.36],[0.00012,8.40],[0.00007,8.44],[0.00016,8.48],[0.00010,8.52],[0.00007,8.56],[0.00013,8.58],[0.00008,8.63],[0.00011,8.70],[0.00007,8.73],[0.00012,8.78],[0.00009,8.83],[0.00013,8.87],[0.00008,8.90],[0.00011,8.95],[0.00008,8.99],[0.00012,9.03],[0.00007,9.07],[0.00011,9.12],[0.00008,9.16],[0.00012,9.22],[0.00007,9.26],[0.00010,9.32],[0.00007,9.37],[0.00012,9.43],[0.00007,9.47],[0.00010,9.53],[0.00007,9.57],[0.00009,9.64],[0.00012,9.76],
 [0.00018,9.54],[0.00024,9.48],[0.00029,9.43],[0.00021,9.38],[0.00026,9.32],[0.00033,9.28],[0.00018,9.23],[0.00025,9.18],[0.00036,9.22],[0.00029,9.12],[0.00039,9.14],[0.00044,9.09],[0.00032,9.07],[0.00026,9.02],[0.00041,9.03],[0.00049,9.06],[0.00033,8.98],[0.00046,8.99],[0.00057,9.01],[0.00029,8.92],[0.00038,8.90],[0.00049,8.90],[0.00058,8.93],[0.00068,8.91],[0.00025,8.86],[0.00040,8.84],[0.00048,8.83],[0.00057,8.85],[0.00069,8.83],[0.00078,8.86],[0.00030,8.78],[0.00037,8.76],[0.00045,8.80],[0.00054,8.77],[0.00062,8.78],[0.00071,8.75],[0.00025,8.71],[0.00032,8.69],[0.00040,8.71],[0.00049,8.72],[0.00058,8.71],[0.00066,8.70],[0.00028,8.64],[0.00035,8.62],[0.00043,8.65],[0.00051,8.64],[0.00061,8.63],[0.00024,8.58],[0.00031,8.56],[0.00039,8.59],[0.00047,8.57],[0.00027,8.52],[0.00036,8.50],[0.00044,8.53],[0.00021,8.45],[0.00033,8.46],[0.00016,9.48],[0.00020,9.34],[0.00014,9.25],[0.00019,9.08],[0.00015,8.97],[0.00017,8.83],[0.00022,8.66],
 [0.00055,10.00],[0.00066,9.99],[0.00079,10.05],[0.00087,10.00],[0.00098,10.03],[0.00111,9.99],[0.00123,10.04],[0.00134,9.98],[0.00141,10.01],[0.00053,9.92],[0.00061,9.85],[0.00069,9.90],[0.00077,9.86],[0.00084,9.91],[0.00094,9.84],[0.00103,9.90],[0.00112,9.85],[0.00118,9.95],[0.00126,9.84],[0.00136,9.93],[0.00142,9.82],[0.00150,9.85],[0.00057,9.77],[0.00068,9.74],[0.00078,9.71],[0.00086,9.79],[0.00093,9.73],[0.00106,9.74],[0.00114,9.71],[0.00124,9.70],[0.00135,9.77],[0.00148,9.78],[0.00085,9.64],[0.00096,9.62],[0.00111,9.64],[0.00127,9.67],[0.00145,9.64],
 [0.00011,10.12],[0.00015,10.28],[0.00010,10.38],[0.00016,10.50],[0.00012,10.62],[0.00015,10.72],[0.00011,10.82],[0.00014,10.92],[0.00017,11.07],[0.00013,11.22],[0.00016,11.30],[0.00018,11.48],[0.00015,11.66],[0.00019,11.78],[0.00017,12.02],[0.00018,12.25],[0.00020,12.40]
];

// ---------------- LAYOUT ----------------
const svg = d3.select("#chart");
const FS = 27.8;
const gridColor = "#b0b0b0";
const dotColor = "#1f77b4";
const left = {x0:105, x1:671, y0:75, y1:858};
const right = {x0:705, x1:1272, y0:75, y1:858};

const xS = d3.scaleLinear().domain([29.401, 34.388]).range([left.x0, left.x1]);
const yT = d3.scaleLinear().domain([3.407, 12.512]).range([left.y1, left.y0]);
const xO = d3.scaleLinear().domain([-0.0002876, 0.007124]).range([right.x0, right.x1]);

svg.append("text").attr("x", 639).attr("y", 27).attr("text-anchor","middle")
  .attr("font-size", 22.3).text(titleLines[0]);
svg.append("text").attr("x", 639).attr("y", 53).attr("text-anchor","middle")
  .attr("font-size", 22.3).text(titleLines[1]);

const defs = svg.append("defs");
function clip(id, b){
  defs.append("clipPath").attr("id", id).append("rect")
    .attr("x", b.x0).attr("y", b.y0).attr("width", b.x1-b.x0).attr("height", b.y1-b.y0);
}
clip("clipL", left); clip("clipR", right);

function grid(b, xs, xticks, ticksY){
  const g = svg.append("g").attr("stroke", gridColor).attr("stroke-width", 2.2);
  xticks.forEach(v => g.append("line").attr("x1", xs(v)).attr("x2", xs(v)).attr("y1", b.y0).attr("y2", b.y1));
  ticksY.forEach(v => g.append("line").attr("x1", b.x0).attr("x2", b.x1).attr("y1", yT(v)).attr("y2", yT(v)));
}
grid(left, xS, salinityTicks, temperatureTicks);
grid(right, xO, oxygenTicks, temperatureTicks);

// Density anomaly from UNESCO EOS-80 at surface pressure
function sigmaT(S, T){
  const T2=T*T, T3=T2*T, T4=T3*T, T5=T4*T;
  const rw = 999.842594 + 6.793952e-2*T - 9.095290e-3*T2 + 1.001685e-4*T3 - 1.120083e-6*T4 + 6.536332e-9*T5;
  const A = 0.824493 - 4.0899e-3*T + 7.6438e-5*T2 - 8.2467e-7*T3 + 5.3875e-9*T4;
  const B = -5.72466e-3 + 1.0227e-4*T - 1.6546e-6*T2;
  return rw + A*S + B*Math.pow(S,1.5) + 4.8314e-4*S*S - 1000;
}
const nx = 360, ny = 360, S0 = 28.6, S1 = 35.2, T0 = 2.6, T1 = 13.3;
const dS = (S1-S0)/(nx-1), dT = (T1-T0)/(ny-1);
const grd = new Float64Array(nx*ny);
for (let j=0;j<ny;j++) for (let i=0;i<nx;i++) grd[i + j*nx] = sigmaT(S0+i*dS, T0+j*dT);
const contours = d3.contours().size([nx, ny]).thresholds(sigmaLevels)(grd);

const labelInfo = sigmaLabels.map((lev, k) => {
  const T = sigmaLabelTemps[k];
  let lo = 28, hi = 36;
  for (let it=0; it<60; it++){ const m=(lo+hi)/2; if (sigmaT(m,T) < lev) lo = m; else hi = m; }
  const S = (lo+hi)/2;
  const h = 0.01;
  const dsdT = -((sigmaT(S,T+h)-sigmaT(S,T-h))/(2*h)) / ((sigmaT(S+h,T)-sigmaT(S-h,T))/(2*h));
  const px = xS(S), py = yT(T);
  const ang = Math.atan2(yT(T+1)-yT(T), xS(S+dsdT)-xS(S)) * 180/Math.PI;
  return {lev, px, py, ang};
});
const mask = defs.append("mask").attr("id","cmask").attr("maskUnits","userSpaceOnUse")
  .attr("x",0).attr("y",0).attr("width",1280).attr("height",960);
mask.append("rect").attr("x",0).attr("y",0).attr("width",1280).attr("height",960).attr("fill","white");
labelInfo.forEach(d => {
  mask.append("rect").attr("x",-47).attr("y",-8).attr("width",94).attr("height",16)
    .attr("fill","black").attr("transform",`translate(${d.px},${d.py}) rotate(${d.ang})`);
});

const cg = svg.append("g").attr("clip-path","url(#clipL)")
  .append("g").attr("mask","url(#cmask)");
contours.forEach(c => {
  let dstr = "";
  c.coordinates.forEach(poly => poly.forEach(ring => {
    dstr += "M" + ring.map(p => [xS(S0 + p[0]*dS).toFixed(2), yT(T0 + p[1]*dT).toFixed(2)].join(",")).join("L");
  }));
  cg.append("path").attr("d", dstr).attr("fill","none").attr("stroke","#808080")
    .attr("stroke-width", 3.3).attr("stroke-linejoin","round");
});
svg.append("g").attr("clip-path","url(#clipL)").selectAll("text.clab").data(labelInfo).join("text")
  .attr("class","clab")
  .attr("transform", d => `translate(${d.px},${d.py}) rotate(${d.ang})`)
  .attr("text-anchor","middle").attr("dy","0.36em")
  .attr("font-size", 22).attr("fill","#808080")
  .text(d => d.lev.toFixed(1));

const tsAll = tsPoints.concat(tsPointsDense, tsPointsCore);
const o2All = o2Points.concat(o2PointsDense, o2PointsCore);
svg.append("g").attr("clip-path","url(#clipL)").selectAll("circle").data(tsAll).join("circle")
  .attr("cx", d => xS(d[0])).attr("cy", d => yT(d[1])).attr("r", 2.2).attr("fill", dotColor);
svg.append("g").attr("clip-path","url(#clipR)").selectAll("circle").data(o2All).join("circle")
  .attr("cx", d => xO(d[0])).attr("cy", d => yT(d[1])).attr("r", 2.2).attr("fill", dotColor);

function frame(b){
  svg.append("rect").attr("x", b.x0).attr("y", b.y0).attr("width", b.x1-b.x0).attr("height", b.y1-b.y0)
    .attr("fill","none").attr("stroke","#000").attr("stroke-width", 2.2);
}
frame(left); frame(right);
function xticks(b, xs, vals, labels){
  const g = svg.append("g");
  vals.forEach((v,i) => {
    g.append("line").attr("x1", xs(v)).attr("x2", xs(v)).attr("y1", b.y1).attr("y2", b.y1+9.7)
      .attr("stroke","#000").attr("stroke-width",2.2);
    g.append("text").attr("x", xs(v)).attr("y", 901).attr("text-anchor","middle")
      .attr("font-size", FS).text(labels[i]);
  });
}
xticks(left, xS, salinityTicks, salinityTicks.map(String));
xticks(right, xO, oxygenTicks, oxygenTickLabels);
function yticks(b, withLabels){
  const g = svg.append("g");
  temperatureTicks.forEach(v => {
    g.append("line").attr("x1", b.x0-9.7).attr("x2", b.x0).attr("y1", yT(v)).attr("y2", yT(v))
      .attr("stroke","#000").attr("stroke-width",2.2);
    if (withLabels) g.append("text").attr("x", b.x0-19.4).attr("y", yT(v)+10.2)
      .attr("text-anchor","end").attr("font-size", FS).text(String(v));
  });
}
yticks(left, true); yticks(right, false);

function mathLabel(x, y, rot, parts){
  const t = svg.append("text").attr("text-anchor","middle").attr("font-size", FS)
    .attr("transform", `translate(${x},${y}) rotate(${rot})`);
  parts.forEach(p => {
    const ts = t.append("tspan").text(p.t).attr("font-style", p.i ? "italic" : "normal");
    if (p.sup) ts.attr("font-size", FS*0.7).attr("dy", -11);
    if (p.after) ts.attr("dy", 11);
  });
  return t;
}
mathLabel(388, 943, 0, [{t:"S",i:true},{t:" [",i:false},{t:"psu",i:true},{t:"]",i:false}]);
mathLabel(988.5, 943, 0, [{t:"O",i:true},{t:"2",i:false,sup:true},{t:" [",i:false,after:true},{t:"mmol",i:true},{t:"/",i:false},{t:"L",i:true},{t:"]",i:false}]);
mathLabel(30, 466.5, -90, [{t:"T",i:true},{t:" [",i:false},{t:"o",i:true,sup:true},{t:"C",i:true,after:true},{t:"]",i:false}]);
</script>
</body></html>
